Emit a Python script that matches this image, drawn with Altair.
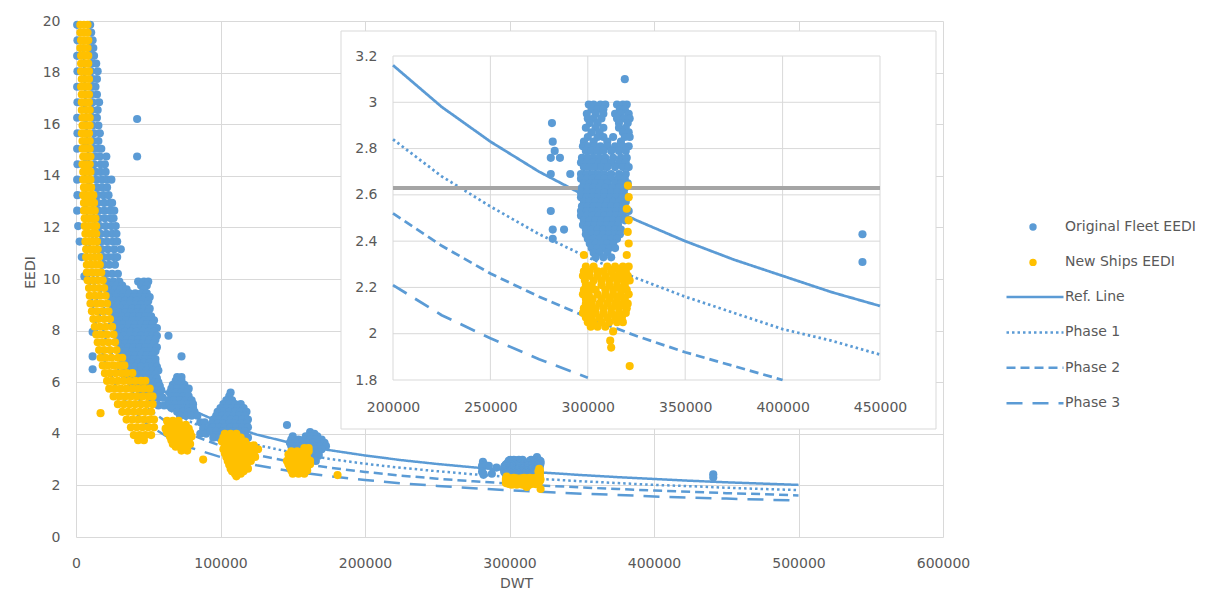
import altair as alt
import pandas as pd

# ---------------- data ----------------
series_names = ["Original Fleet EEDI", "New Ships EEDI"]
line_names = ["Ref. Line", "Phase 1", "Phase 2", "Phase 3"]

line_dwt = [5000, 7500, 10000, 15000, 20000, 30000, 40000, 50000, 65000, 80000,
            100000, 125000, 150000, 175000, 200000, 225000, 250000, 275000, 300000,
            325000, 350000, 375000, 400000, 425000, 450000, 475000, 500000]
ref_line = [19.09, 15.66, 13.61, 11.17, 9.71, 7.96, 6.92, 6.21, 5.46, 4.93,
            4.43, 3.97, 3.63, 3.37, 3.16, 2.98, 2.83, 2.70, 2.59,
            2.49, 2.40, 2.32, 2.25, 2.18, 2.12, 2.07, 2.02]
phase_1 = [17.18, 14.09, 12.25, 10.05, 8.74, 7.17, 6.23, 5.59, 4.91, 4.44,
           3.98, 3.57, 3.27, 3.03, 2.84, 2.68, 2.55, 2.43, 2.33,
           2.24, 2.16, 2.09, 2.02, 1.97, 1.91, 1.86, 1.82]
phase_2 = [15.27, 12.53, 10.89, 8.94, 7.76, 6.37, 5.54, 4.96, 4.37, 3.95,
           3.54, 3.18, 2.90, 2.69, 2.52, 2.38, 2.26, 2.16, 2.07,
           1.99, 1.92, 1.86, 1.80, 1.75, 1.70, 1.66, 1.61]
phase_3 = [13.36, 10.96, 9.53, 7.82, 6.79, 5.57, 4.84, 4.34, 3.82, 3.45,
           3.10, 2.78, 2.54, 2.36, 2.21, 2.08, 1.98, 1.89, 1.81,
           1.74, 1.68, 1.63, 1.57, 1.53, 1.49, 1.45, 1.41]
threshold_eedi = 2.63

# (EEDI, [DWT, ...]) rows of the Original Fleet scatter
orig_fleet_rows = [
    (19.85, [800, 9800]), (19.55, [10500]), (19.25, [1000, 11500]), (18.95, [9500, 12000]),
    (18.65, [800, 10500, 12500]), (18.35, [11000, 14000]), (18.05, [1000, 10500, 15000]),
    (17.75, [11500, 14500]), (17.45, [800, 11000, 13500]), (17.15, [10500, 14500]),
    (16.85, [1000, 11500, 16000]), (16.55, [11000, 15000]), (16.25, [800, 12000, 14500]),
    (15.95, [11500, 15500]), (15.65, [1000, 12500, 16500]), (15.35, [12000, 15500]),
    (15.05, [800, 12500, 15000, 17500]), (14.75, [13000, 16500, 21000]),
    (14.45, [1000, 12500, 17000, 20000]), (14.15, [13500, 17000, 20500]),
    (13.85, [800, 14000, 18000, 21500, 24500]), (13.55, [14500, 18000, 21500]),
    (13.25, [1000, 15000, 19000, 22500]), (12.95, [15000, 19500, 23500, 25000]),
    (12.65, [800, 15500, 19500, 23500, 26500]), (12.35, [16000, 20000, 24000, 26000]),
    (12.05, [1500, 16500, 20500, 24500, 27500]), (11.75, [17000, 21000, 25000, 28000]),
    (11.45, [2500, 17500, 21500, 25500, 28500]), (11.15, [18000, 22000, 26500, 31000]),
    (10.85, [4000, 19000, 22500, 26000, 28500]), (10.55, [19500, 23000, 27000]),
    (10.1, [5800]), (16.2, [42300]), (14.75, [42300]),
    (10.2, [21000, 25000, 29000]),
    (9.9, [22000, 26000, 30000, 43000, 47000, 50000]),
    (9.75, [24000, 28000, 32000, 45000, 49000]),
    (9.6, [23000, 27000, 31000, 35000, 47000]),
    (9.45, [25000, 29000, 33000, 37000, 41000, 45000, 49000]),
    (9.3, [24000, 28000, 32000, 36000, 40000, 44000, 48000, 51000]),
    (9.15, [26000, 30000, 34000, 38000, 42000, 46000, 50000]),
    (9.0, [25000, 29000, 33000, 37000, 41000, 45000, 49000]),
    (8.85, [27000, 31000, 35000, 39000, 43000, 47000, 51000]),
    (8.7, [26000, 30000, 34000, 38000, 42000, 46000, 50000]),
    (8.55, [28000, 32000, 36000, 40000, 44000, 48000, 52000]),
    (8.4, [27000, 31000, 35000, 39000, 43000, 47000, 51000, 54000]),
    (8.25, [29000, 33000, 37000, 41000, 45000, 49000, 53000]),
    (8.1, [28000, 32000, 36000, 40000, 44000, 48000, 52000, 56000]),
    (7.95, [30000, 34000, 38000, 42000, 46000, 50000, 54000]),
    (7.8, [29000, 33000, 37000, 41000, 45000, 49000, 53000, 56000, 64000]),
    (7.65, [31000, 35000, 39000, 43000, 47000, 51000, 55000]),
    (7.5, [30000, 34000, 38000, 42000, 46000, 50000, 54000]),
    (7.35, [32000, 36000, 40000, 44000, 48000, 52000, 56000]),
    (7.2, [31000, 35000, 39000, 43000, 47000, 51000, 55000]),
    (7.05, [33000, 37000, 41000, 45000, 49000, 53000]),
    (6.9, [32000, 36000, 40000, 44000, 48000, 52000, 55000]), (7.0, [73000]),
    (6.75, [35000, 39000, 43000, 47000, 51000, 55000]),
    (6.6, [33000, 37000, 41000, 45000, 49000, 53000, 56000]),
    (6.45, [37000, 41000, 45000, 49000, 53000, 57000]),
    (6.3, [35000, 39000, 43000, 47000, 51000, 55000]),
    (6.15, [40000, 44000, 48000, 52000, 56000]),
    (6.0, [38000, 42000, 46000, 50000, 54000, 57000]),
    (5.85, [46000, 50000, 54000, 58000]),
    (5.7, [44000, 48000, 52000, 56000, 59000]),
    (5.55, [54000, 58000]),
    (5.4, [52000, 56000, 60000]), (5.1, [57000, 61000]),
    (7.95, [11500]), (7.0, [11500]), (6.5, [11500]),
    (6.2, [70000, 73000]), (6.05, [69000, 73000]), (5.9, [67000, 71000, 75000]),
    (5.75, [66000, 70000, 74000, 78000]),
    (5.6, [65000, 69000, 73000, 77000]), (5.45, [66000, 70000, 74000, 78000]),
    (5.3, [64000, 68000, 72000, 76000, 80000]), (5.15, [65000, 69000, 73000, 77000, 81000]),
    (5.0, [66000, 70000, 74000, 78000, 81000]), (4.85, [70000, 74000, 78000, 82000]),
    (4.7, [72000, 76000, 80000, 84000]),
    (4.45, [86000, 89000]), (4.2, [88000, 92000]), (4.0, [86000, 90000]),
    (5.6, [107000]), (5.45, [106000]), (5.3, [104000, 108000]),
    (5.15, [102000, 106000, 110000, 114000]),
    (5.0, [100000, 104000, 108000, 112000, 116000]),
    (4.85, [98000, 102000, 106000, 110000, 114000, 118000]),
    (4.7, [97000, 101000, 105000, 109000, 113000, 117000]),
    (4.55, [95000, 99000, 103000, 107000, 111000, 115000, 119000]),
    (4.4, [94000, 98000, 102000, 106000, 110000, 114000, 118000]),
    (4.25, [95000, 99000, 103000, 107000, 111000, 115000, 119000]),
    (4.1, [93000, 97000, 101000, 105000, 109000, 113000, 117000]),
    (3.95, [97000, 101000, 113000, 117000]),
    (3.85, [95000, 99000, 115000, 119000]),
    (4.34, [146000]), (4.07, [162000]), (4.0, [165000]),
    (3.9, [150000, 159000, 163000, 167000]),
    (3.78, [149000, 154000, 158000, 162000, 166000, 170000]),
    (3.65, [148000, 152000, 156000, 160000, 164000, 168000, 172000]),
    (3.52, [149000, 153000, 157000, 161000, 165000, 169000, 173000]),
    (3.4, [150000, 154000, 158000, 162000, 166000, 170000]),
    (3.28, [160000, 164000, 168000]),
    (3.15, [164000, 168000]), (2.95, [166000]),
    (3.10, [319000]),
    (2.99, [300500, 303000, 306500, 309000, 315000, 318000, 320000]),
    (2.97, [302000, 305000, 308000, 316500, 319000]),
    (2.95, [299500, 304000, 308000, 314000, 317000, 321000]),
    (2.93, [300000, 303000, 307000, 315000, 318500, 321500]),
    (2.91, [281600, 301000, 305000, 316000, 320500]),
    (2.89, [299000, 304000, 308000, 316000, 319500]),
    (2.87, [302000, 306000, 318000, 321000]),
    (2.85, [300000, 305000, 308000, 313000, 319000, 321500]),
    (2.83, [282000, 298000, 303000, 310000, 317000]),
    (2.81, [297500, 300500, 303500, 306500, 310000, 314000, 318000, 321000]),
    (2.79, [283000, 299000, 302000, 305000, 308000, 312000, 316000, 319500]),
    (2.76, [281000, 285700, 297000, 300000, 303000, 306000, 309000, 313000, 317000, 320000]),
    (2.74, [296500, 299500, 302500, 305500, 308500, 312000, 316000, 319500]),
    (2.72, [298000, 301000, 304000, 307000, 310000, 314000, 318000, 321000]),
    (2.69, [281000, 291000, 296500, 299500, 302500, 305500, 308500, 312000, 316000, 319500]),
    (2.67, [296500, 299500, 302500, 305500, 308500, 312000, 315500, 319000]),
    (2.65, [298000, 301000, 304000, 307000, 310000, 314000, 317000, 320500]),
    (2.63, [297000, 300000, 303000, 306000, 309000, 312500, 316000, 319000]),
    (2.61, [296500, 299500, 302500, 305500, 308500, 312000, 315000, 318500]),
    (2.59, [296500, 299500, 302500, 305500, 308500, 311500, 314500, 318000]),
    (2.57, [298000, 301000, 304000, 307000, 310000, 313000, 316000, 319500]),
    (2.55, [297000, 300000, 303000, 306000, 309000, 312000, 315000, 318500]),
    (2.53, [281000, 296500, 299500, 302500, 305500, 308500, 311500, 314500, 318000, 321000]),
    (2.51, [296500, 299500, 302500, 305500, 308500, 311500, 314500, 317500]),
    (2.49, [298000, 301000, 304000, 307000, 310000, 313000, 316000, 319000]),
    (2.47, [297500, 300500, 303500, 306500, 309500, 312500, 315500]),
    (2.45, [282000, 287800, 299000, 302000, 305000, 308000, 311000, 314000, 317000]),
    (2.43, [299000, 302000, 305000, 308000, 311000, 314000, 316500]),
    (2.41, [282000, 300000, 303000, 306000, 309000, 312000, 315000]),
    (2.39, [301000, 304000, 307000, 310000, 313000]),
    (2.37, [302000, 305000, 308000, 311000, 314000]),
    (2.35, [303000, 306000, 310000]),
    (2.33, [304000, 308000, 312000]),
    (2.43, [441000]), (2.31, [441000]),
]

# (EEDI, [DWT, ...]) rows of the New Ships scatter
new_ships_rows = [
    (19.85, [3000, 5500, 8000]), (19.55, [3000, 5500, 8000]), (19.25, [3500, 6000, 8500]),
    (18.95, [3000, 5500, 8000]), (18.65, [3500, 6000, 8500]), (18.35, [3500, 6000, 8500]),
    (18.05, [3500, 6500, 9000]), (17.75, [4000, 6500, 9000]), (17.45, [3500, 6000, 8500]),
    (17.15, [4000, 6500, 9000]), (16.85, [4000, 6500, 9000]), (16.55, [4000, 7000, 9500]),
    (16.25, [4500, 7000, 9500]), (15.95, [4500, 7000, 9500]), (15.65, [4000, 6500, 9000]),
    (15.35, [4500, 7000, 9500]), (15.05, [4500, 7000, 9500]), (14.75, [5000, 7500, 10000]),
    (14.45, [4500, 7000, 9500]), (14.15, [5000, 7500, 10000]), (13.85, [5000, 7500, 10000]),
    (13.55, [5500, 8000, 10500]), (13.25, [5000, 7500, 10000, 12000]),
    (12.95, [5500, 8000, 10500, 12500]), (12.65, [5500, 8000, 10500, 13000]),
    (12.35, [6000, 8500, 11000, 13500]), (12.05, [6000, 8500, 11500, 14000]),
    (11.75, [6500, 9000, 11500, 14000]), (11.45, [6500, 9500, 12000, 14500]),
    (11.15, [7000, 10000, 12500, 15000]), (10.85, [7000, 10000, 13000, 16000]),
    (10.55, [7500, 10500, 13500, 16500]),
    (10.25, [7500, 11000, 14500, 17500]), (9.95, [8000, 11500, 15000, 18500]),
    (9.65, [9000, 12500, 16000, 19500]), (9.35, [9500, 13000, 16500, 20500]),
    (9.05, [10000, 14000, 17500, 21500]), (8.75, [11000, 14500, 18500, 22500]),
    (8.45, [12000, 15500, 19500, 23500]), (8.15, [13000, 16500, 20500, 25000]),
    (7.85, [14000, 17500, 21500, 26000]), (7.55, [15000, 18500, 22500, 27000]),
    (7.25, [16000, 19500, 23500, 28000]), (6.95, [17000, 20500, 24500, 29000, 32000]),
    (6.65, [18500, 22000, 26000, 30000, 33500]),
    (6.35, [20000, 23500, 27500, 31500, 35000, 39000]),
    (6.05, [21500, 25000, 29000, 33000, 37000, 41000, 45000, 48000]),
    (5.75, [23000, 27000, 31000, 35000, 39000, 43000, 47000, 51000]),
    (5.45, [26000, 30000, 34000, 38000, 42000, 46000, 50000, 53000]),
    (5.15, [29000, 33000, 37000, 41000, 45000, 49000, 53000]),
    (4.85, [32000, 36000, 40000, 44000, 48000, 52000]),
    (4.55, [35000, 39000, 43000, 47000, 51000, 54000]),
    (4.25, [38000, 42000, 46000, 50000, 54000]),
    (3.95, [40000, 44000, 48000, 52000]), (3.75, [43000, 47000]),
    (4.8, [17000]),
    (4.5, [63000, 67000, 71000]), (4.35, [64000, 68000, 72000, 76000]),
    (4.2, [62000, 66000, 70000, 74000, 78000]), (4.05, [63000, 67000, 71000, 75000, 79000]),
    (3.9, [65000, 69000, 73000, 77000, 80000]), (3.75, [66000, 70000, 74000, 78000]),
    (3.6, [67000, 71000, 75000, 79000]), (3.5, [69000, 73000, 77000]),
    (3.35, [73000, 77000]), (3.0, [88000]),
    (4.0, [103000, 107000, 111000]), (3.85, [102000, 106000, 110000, 114000]),
    (3.7, [101000, 105000, 109000, 113000, 117000]),
    (3.55, [103000, 107000, 111000, 115000, 119000, 123000]),
    (3.4, [102000, 106000, 110000, 114000, 118000, 122000, 126000]),
    (3.25, [103000, 107000, 111000, 115000, 119000, 123000]),
    (3.1, [104000, 108000, 112000, 116000, 120000, 124000]),
    (2.95, [105000, 109000, 113000, 117000, 121000]),
    (2.8, [106000, 110000, 114000, 118000]), (2.65, [107000, 111000, 115000, 119000]),
    (2.55, [108000, 112000, 116000]), (2.45, [110000, 114000]),
    (2.35, [111000]),
    (3.45, [158000, 161000]), (3.32, [149000, 153000, 157000, 161000]),
    (3.2, [147000, 151000, 155000, 159000]), (3.08, [148000, 152000, 156000, 160000]),
    (2.95, [146000, 150000, 154000, 158000, 162000]),
    (2.82, [147000, 151000, 155000, 159000, 162000]),
    (2.7, [148000, 152000, 156000, 160000]), (2.58, [149000, 153000, 157000, 160000]),
    (2.45, [150000, 154000, 158000]),
    (2.4, [181000]),
    (2.64, [320600]), (2.59, [321000]), (2.54, [320000]), (2.49, [321000]),
    (2.44, [320500]), (2.39, [321000]), (2.34, [298000, 320000]),
    (2.29, [299000, 303000, 310000, 314000, 318000, 321000]),
    (2.27, [298000, 301000, 305000, 308000, 312000, 316000, 319500]),
    (2.25, [297500, 301000, 305000, 309000, 313000, 317000, 320500]),
    (2.23, [298500, 303000, 307000, 311000, 315000, 318500, 321500]),
    (2.21, [299000, 302000, 307000, 311000, 315000, 319000]),
    (2.19, [298000, 301000, 304000, 309000, 313000, 317000, 320000]),
    (2.17, [297500, 300500, 305000, 309000, 313000, 317000, 321000]),
    (2.15, [299000, 302500, 307000, 311000, 315000, 319000]),
    (2.13, [299000, 302000, 306000, 310000, 314000, 318000, 320500]),
    (2.11, [298000, 301000, 304000, 308000, 312000, 316000, 320000]),
    (2.09, [297500, 300500, 304000, 308000, 312000, 316000, 319500]),
    (2.07, [299000, 302000, 306000, 310000, 314000, 317500]),
    (2.05, [300000, 303000, 307000, 311000, 315000, 318000]),
    (2.03, [301500, 305000, 309000]),
    (2.01, [313000]), (1.97, [311500]), (1.94, [312000]), (1.86, [321500]),
]

x_ticks_main = [0, 100000, 200000, 300000, 400000, 500000, 600000]
y_ticks_main = [0, 2, 4, 6, 8, 10, 12, 14, 16, 18, 20]
x_ticks_inset = [200000, 250000, 300000, 350000, 400000, 450000]
y_ticks_inset = [1.8, 2.0, 2.2, 2.4, 2.6, 2.8, 3.0, 3.2]

# ---------------- tables ----------------
recs = []
for name, rows in zip(series_names, [orig_fleet_rows, new_ships_rows]):
    for eedi, dwts in rows:
        for d in dwts:
            recs.append({"DWT": d, "EEDI": eedi, "series": name})
df_pts = pd.DataFrame(recs)

lrecs = []
for name, vals in zip(line_names, [ref_line, phase_1, phase_2, phase_3]):
    for d, v in zip(line_dwt, vals):
        lrecs.append({"DWT": d, "EEDI": v, "line": name})
df_lines = pd.DataFrame(lrecs)

# ---------------- style ----------------
BLUE = "#5B9BD5"
GOLD = "#FFC000"
GRID = "#D9D9D9"
TEXT = "#595959"
FONT = "DejaVu Sans"
W, H = 867, 516
PT = 66

color_scale = alt.Scale(domain=series_names, range=[BLUE, GOLD])
dash_scale = alt.Scale(domain=line_names, range=[[1, 0], [2.5, 3], [9, 5], [16, 10]])

points_legend = alt.Legend(title=None, orient="none", legendX=929, legendY=196,
                           symbolType="circle", symbolSize=55, symbolOffset=21,
                           labelOffset=25, clipHeight=20, rowPadding=15.4,
                           labelFont=FONT, labelFontSize=14, labelColor=TEXT,
                           symbolStrokeWidth=0, labelLimit=200)
lines_legend = alt.Legend(title=None, orient="none", legendX=929, legendY=266,
                          symbolType="stroke", symbolSize=3249, symbolStrokeColor=BLUE,
                          symbolStrokeWidth=2.5, labelOffset=0, clipHeight=20,
                          rowPadding=15.4, labelFont=FONT, labelFontSize=14,
                          labelColor=TEXT, labelLimit=200)

main_x_axis = alt.Axis(values=x_ticks_main, format="d", grid=True, gridColor=GRID,
                       domain=False, ticks=False, tickSize=0, labelPadding=19,
                       labelFlush=False, labelOverlap=False, labelFontSize=14,
                       labelColor=TEXT, labelFont=FONT, title="DWT", titleFont=FONT,
                       titleFontSize=14, titleFontWeight="normal", titleColor=TEXT,
                       titleX=440, titleY=46, titleBaseline="middle", titleAlign="center")
main_y_axis = alt.Axis(values=y_ticks_main, format="d", grid=True, gridColor=GRID,
                       domain=False, ticks=False, tickSize=0, labelPadding=16,
                       labelFontSize=14, labelColor=TEXT, labelFont=FONT, labelOverlap=False,
                       title="EEDI", titleFont=FONT, titleFontSize=14,
                       titleFontWeight="normal", titleColor=TEXT, titleX=-46, titleY=251,
                       titleBaseline="middle", titleAlign="center")

mx = alt.Scale(domain=[0, 600000], nice=False, zero=False)
my = alt.Scale(domain=[0, 20], nice=False, zero=True)

main_lines = alt.Chart(df_lines).mark_line(strokeWidth=2.5, color=BLUE).encode(
    x=alt.X("DWT:Q", scale=mx, axis=main_x_axis),
    y=alt.Y("EEDI:Q", scale=my, axis=main_y_axis),
    strokeDash=alt.StrokeDash("line:N", scale=dash_scale, legend=lines_legend),
)
main_points = alt.Chart(df_pts).mark_circle(size=PT, opacity=1).encode(
    x=alt.X("DWT:Q", scale=mx, axis=main_x_axis),
    y=alt.Y("EEDI:Q", scale=my, axis=main_y_axis),
    color=alt.Color("series:N", scale=color_scale, legend=points_legend),
)
main = alt.layer(main_lines, main_points)

# ---------------- inset ----------------
ix = alt.Scale(domain=[200000, 450000], range=[317, 804], nice=False, zero=False)
iy = alt.Scale(domain=[1.8, 3.2], range=[359, 35], nice=False, zero=False)
ix_axis = alt.Axis(orient="bottom", offset=-157, values=x_ticks_inset, format="d",
                   grid=False, domain=False, ticks=False, tickSize=0, labelPadding=20,
                   labelFlush=False, labelOverlap=False, labelFontSize=14,
                   labelColor=TEXT, labelFont=FONT, title=None, zindex=2)
iy_axis = alt.Axis(orient="left", offset=-317, values=y_ticks_inset, format="~g",
                   grid=False, domain=False, ticks=False, tickSize=0, labelPadding=16,
                   labelFlush=False, labelOverlap=False, labelFontSize=14,
                   labelColor=TEXT, labelFont=FONT, title=None, zindex=2)

one_row = pd.DataFrame({"k": [0]})
inset_bg = alt.Chart(one_row).mark_rect(fill="white", stroke=GRID, strokeWidth=1).encode(
    x=alt.value(265), x2=alt.value(860), y=alt.value(10), y2=alt.value(408))

inset_vgrid = alt.Chart(pd.DataFrame({"t": x_ticks_inset})).mark_rule(
    color=GRID, strokeWidth=1).encode(
    x=alt.X("t:Q", scale=ix, axis=ix_axis),
    y=alt.YDatum(1.8, scale=iy, axis=iy_axis), y2=alt.Y2Datum(3.2))
inset_hgrid = alt.Chart(pd.DataFrame({"t": y_ticks_inset})).mark_rule(
    color=GRID, strokeWidth=1).encode(
    y=alt.Y("t:Q", scale=iy, axis=iy_axis),
    x=alt.XDatum(200000, scale=ix, axis=ix_axis), x2=alt.X2Datum(450000))

inset_lines = alt.Chart(df_lines).transform_filter(
    (alt.datum.DWT >= 200000) & (alt.datum.DWT <= 450000) & (alt.datum.EEDI >= 1.8)
).mark_line(strokeWidth=2.75, color=BLUE).encode(
    x=alt.X("DWT:Q", scale=ix, axis=ix_axis),
    y=alt.Y("EEDI:Q", scale=iy, axis=iy_axis),
    strokeDash=alt.StrokeDash("line:N", scale=dash_scale, legend=lines_legend),
)
inset_threshold = alt.Chart(one_row).mark_rule(color="#A5A5A5", strokeWidth=4).encode(
    x=alt.XDatum(200000, scale=ix, axis=ix_axis), x2=alt.X2Datum(450000),
    y=alt.YDatum(threshold_eedi, scale=iy, axis=iy_axis))
inset_points = alt.Chart(df_pts).transform_filter(
    (alt.datum.DWT >= 200000) & (alt.datum.DWT <= 450000)
    & (alt.datum.EEDI >= 1.8) & (alt.datum.EEDI <= 3.2)
).mark_circle(size=PT, opacity=1).encode(
    x=alt.X("DWT:Q", scale=ix, axis=ix_axis),
    y=alt.Y("EEDI:Q", scale=iy, axis=iy_axis),
    color=alt.Color("series:N", scale=color_scale, legend=points_legend),
)
inset = alt.layer(inset_bg, inset_vgrid, inset_hgrid, inset_lines, inset_threshold, inset_points)

chart = alt.layer(main, inset).resolve_scale(
    x="independent", y="independent"
).properties(
    width=W, height=H,
    padding={"left": 68, "top": 13, "right": 260, "bottom": 53},
    autosize=alt.AutoSizeParams(type="none"),
    background="white",
).configure_view(stroke=None)

chart.save("out.html", embed_options={"renderer": "svg", "actions": False})
